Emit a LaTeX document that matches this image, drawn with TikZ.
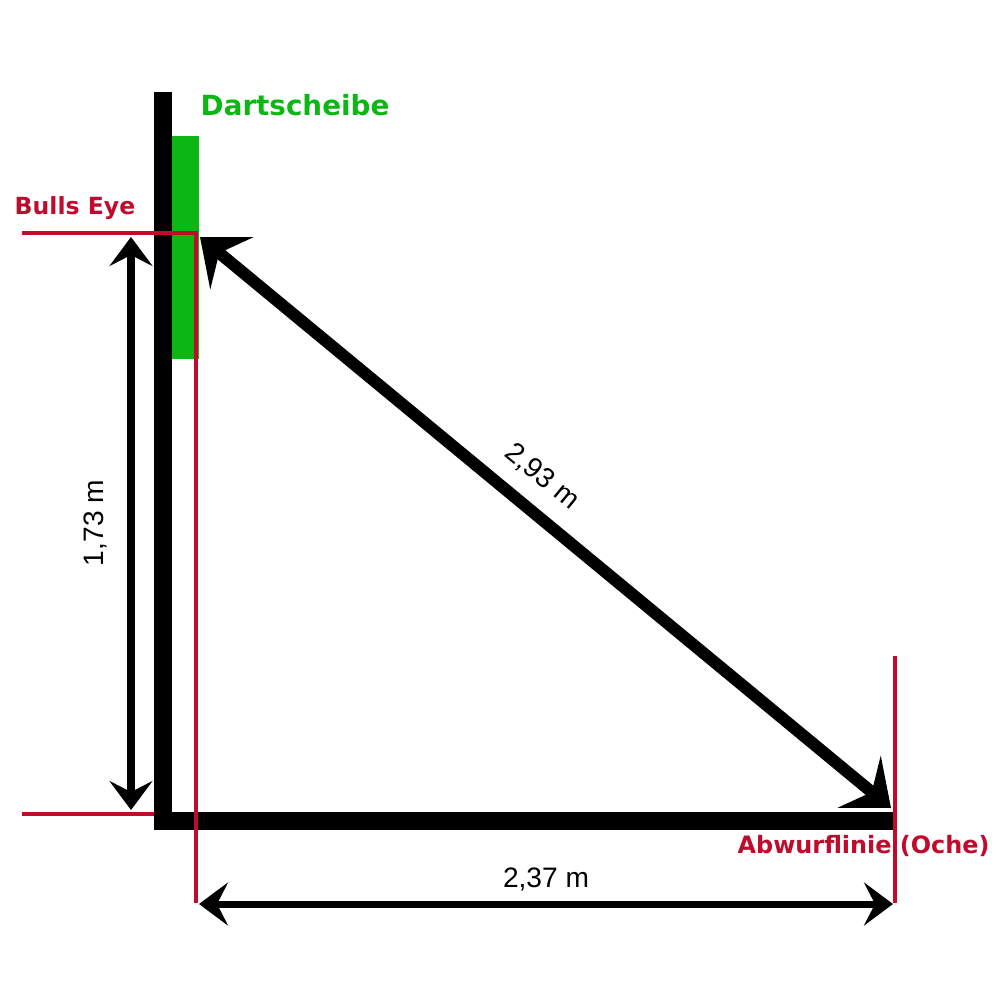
\documentclass[tikz,border=0pt]{standalone}
\usepackage{fontspec}
\setmainfont{Liberation Sans}
\newfontfamily\labelfont{DejaVu Sans}
\usetikzlibrary{arrows.meta}
\definecolor{boardgreen}{RGB}{12,183,20}
\definecolor{linered}{RGB}{192,12,44}

\begin{document}
\begin{tikzpicture}[
  x=0.01cm, y=-0.01cm,
  wall/.style={line width=0.18cm, black},
  redline/.style={line width=0.045cm, linered},
  dimline/.style={line width=0.07cm,
    {Stealth[length=0.29cm, width=0.43cm, inset=0.11cm]}-{Stealth[length=0.29cm, width=0.43cm, inset=0.11cm]}},
  throwline/.style={line width=0.12cm,
    {Stealth[length=0.41cm, width=0.67cm, inset=0.16cm]}-{Stealth[length=0.41cm, width=0.67cm, inset=0.16cm]}},
  redlabel/.style={font=\labelfont\bfseries\fontsize{6.8}{8}\selectfont, text=linered, inner sep=0pt, anchor=base west},
  number/.style={font=\fontsize{8}{9}\selectfont, inner sep=0pt, anchor=base}
]
\useasboundingbox (0,0) rectangle (1000,1000);

% Wall, floor and board
\draw[wall] (163,92) -- (163,821) -- (893,821);
\fill[boardgreen] (172,136) rectangle (199,359);

% Points
\coordinate (bullfar) at (22,233);
\coordinate (bullnear) at (196,903);
\coordinate (floorleft) at (22,814);
\coordinate (floorwall) at (154,814);
\coordinate (ochetop) at (895,656);
\coordinate (ochebottom) at (895,903);
\coordinate (bull) at (200,237);
\coordinate (oche) at (891,808);
\coordinate (heighttop) at (131,237);
\coordinate (heightbottom) at (131,810);
\coordinate (distleft) at (199,904);
\coordinate (distright) at (893,904);

% Red marker lines
\draw[redline] (bullfar) -| (bullnear);
\draw[redline] (floorleft) -- (floorwall);
\draw[redline] (ochetop) -- (ochebottom);

% Labels
\node[font=\labelfont\bfseries\fontsize{7.9}{9}\selectfont, text=boardgreen, inner sep=0pt, anchor=base west] (board) at (200,115) {Dartscheibe};
\node[redlabel, font=\labelfont\bfseries\fontsize{6.7}{8}\selectfont] (bullseye) at (14,214) {Bulls Eye};
\node[redlabel] (ochelabel) at (737,853) {Abwurflinie (Oche)};

% Measures
\draw[dimline] (heighttop) -- (heightbottom);
\draw[dimline] (distleft) -- (distright);
\draw[throwline] (bull) -- (oche);
\node[number, rotate=90] (height) at (103,523) {1,73 m};
\node[number] (dist) at (546,887) {2,37 m};
\node[number, rotate=-39.5] (throw) at (537,483) {2,93 m};
\end{tikzpicture}
\end{document}
